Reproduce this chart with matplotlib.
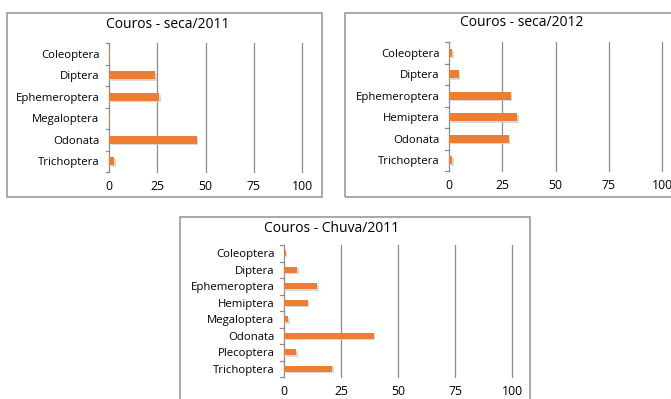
import matplotlib.pyplot as plt
from matplotlib.patches import Rectangle
import matplotlib.patheffects as pe

# percent of individuals per order, three sampling campaigns
cats_seca11 = ["Coleoptera", "Diptera", "Ephemeroptera", "Megaloptera", "Odonata", "Trichoptera"]
vals_seca11 = [0.3, 24, 26, 0.3, 45.4, 2.6]

cats_seca12 = ["Coleoptera", "Diptera", "Ephemeroptera", "Hemiptera", "Odonata", "Trichoptera"]
vals_seca12 = [1.6, 4.5, 29, 32, 28, 1.6]

cats_chuva11 = ["Coleoptera", "Diptera", "Ephemeroptera", "Hemiptera", "Megaloptera",
                "Odonata", "Plecoptera", "Trichoptera"]
vals_chuva11 = [0.7, 5.9, 14.5, 10.4, 1.9, 39.4, 5.3, 21]

xticks = [0, 25, 50, 75, 100]

W, H = 671, 399
BAR = "#ED7D31"
GRID = "#8c8c8c"
FONT = "Open Sans"

fig = plt.figure(figsize=(W / 100, H / 100), dpi=100)


def px_axes(l, t, r, b):
    return fig.add_axes([l / W, 1 - b / H, (r - l) / W, (b - t) / H])


def panel(l, t, r, b):
    fig.patches.append(Rectangle((l / W, 1 - b / H), (r - l) / W, (b - t) / H,
                                 transform=fig.transFigure, fill=False,
                                 edgecolor="#9a9a9a", linewidth=1.2))


def bar_chart(ax, cats, vals, title, title_xy):
    n = len(cats)
    pos = list(range(n))[::-1]
    ax.barh(pos, vals, height=0.36, color=BAR, zorder=3,
            path_effects=[pe.SimplePatchShadow(offset=(1.2, -1.2), shadow_rgbFace="#cfcfcf", alpha=0.8),
                          pe.Normal()])
    ax.set_xlim(0, 100)
    ax.set_ylim(-0.5, n - 0.5)
    ax.set_xticks(xticks)
    ax.set_xticklabels([str(x) for x in xticks], fontsize=8.8, family=FONT)
    ax.set_yticks(pos)
    ax.set_yticklabels(cats, fontsize=8.2, family=FONT)
    ax.tick_params(axis="y", length=0, pad=7)
    ax.tick_params(axis="x", length=0, pad=6)
    # small marks between categories on the value axis
    for k in range(n + 1):
        ax.plot([-1.8, 0], [k - 0.5, k - 0.5], color=GRID, lw=0.9, clip_on=False, zorder=2)
    for x in xticks[1:]:
        ax.axvline(x, color=GRID, lw=0.9, zorder=1, clip_on=False)
    for s in ["top", "right", "bottom"]:
        ax.spines[s].set_visible(False)
    ax.spines["left"].set_color(GRID)
    ax.spines["left"].set_linewidth(0.9)
    fig.text(title_xy[0] / W, 1 - title_xy[1] / H, title,
             ha="center", va="center", fontsize=10, family=FONT)


panel(7, 13, 322, 197)
panel(345, 13, 680, 197)
panel(180, 217, 530, 410)

ax1 = px_axes(109, 43, 302, 172)
bar_chart(ax1, cats_seca11, vals_seca11, "Couros - seca/2011", (168, 24))
ax2 = px_axes(449, 42, 662, 171)
bar_chart(ax2, cats_seca12, vals_seca12, "Couros - seca/2012", (522, 23))
ax3 = px_axes(284, 245, 512, 377)
bar_chart(ax3, cats_chuva11, vals_chuva11, "Couros - Chuva/2011", (332, 228))

fig.savefig("out.png", dpi=100)
